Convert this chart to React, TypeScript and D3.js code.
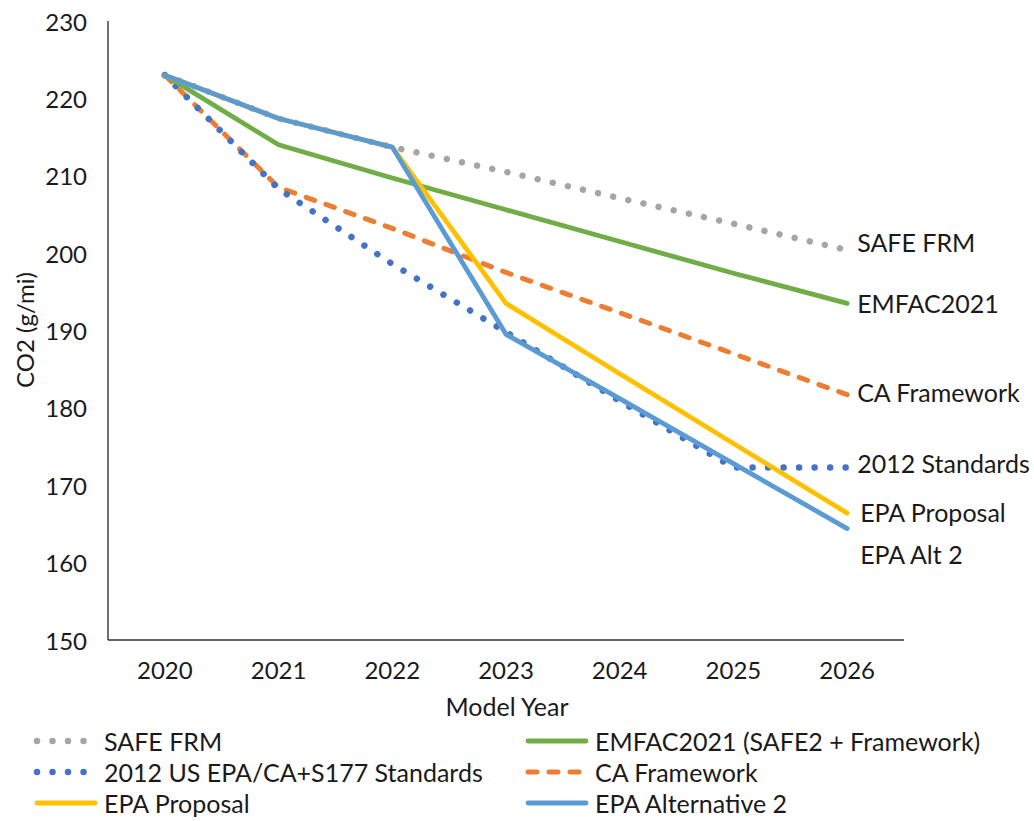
import React from "react";
import * as d3 from "d3";

const years = ["2020", "2021", "2022", "2023", "2024", "2025", "2026"];

const safeFrm = [223.0, 217.4, 213.7, 210.5, 207.1, 203.8, 200.4];
const emfac2021 = [223.0, 214.0, 209.7, 205.6, 201.5, 197.4, 193.5];
const caFramework = [223.0, 208.5, 203.2, 197.5, 192.3, 187.0, 181.7];
const standards2012 = [223.0, 208.3, 198.6, 189.8, 180.9, 172.3, 172.3];
const epaProposal = [223.0, 217.4, 213.7, 193.5, 184.4, 175.4, 166.4];
const epaAlt2 = [223.0, 217.4, 213.7, 189.5, 181.2, 172.8, 164.4];

const yTicks = [150, 160, 170, 180, 190, 200, 210, 220, 230];

type Series = {
  name: string;
  endLabel: string;
  values: number[];
  color: string;
  style: "solid" | "dot" | "dash";
  labelDx: number;
  labelDy: number;
};

const series: Series[] = [
  { name: "SAFE FRM", endLabel: "SAFE FRM", values: safeFrm, color: "#A5A5A5", style: "dot", labelDx: 10, labelDy: -8 },
  { name: "EMFAC2021 (SAFE2 + Framework)", endLabel: "EMFAC2021", values: emfac2021, color: "#70AD47", style: "solid", labelDx: 10, labelDy: 0 },
  { name: "2012 US EPA/CA+S177 Standards", endLabel: "2012 Standards", values: standards2012, color: "#4472C4", style: "dot", labelDx: 10, labelDy: -4 },
  { name: "CA Framework", endLabel: "CA Framework", values: caFramework, color: "#ED7D31", style: "dash", labelDx: 10, labelDy: -3 },
  { name: "EPA Proposal", endLabel: "EPA Proposal", values: epaProposal, color: "#FFC000", style: "solid", labelDx: 13, labelDy: -1 },
  { name: "EPA Alternative 2", endLabel: "EPA Alt 2", values: epaAlt2, color: "#5B9BD5", style: "solid", labelDx: 13, labelDy: 25 },
];

// draw order: later series sit on top
const drawOrder = ["SAFE FRM", "CA Framework", "2012 US EPA/CA+S177 Standards", "EMFAC2021 (SAFE2 + Framework)", "EPA Proposal", "EPA Alternative 2"];

const W = 1034;
const H = 821;
const plot = { left: 108, right: 904, top: 21, bottom: 640 };
const FONT = "Lato, 'Open Sans', sans-serif";
const INK = "#1a1a1a";

function strokeProps(s: Series) {
  if (s.style === "dot") {
    return { strokeWidth: 6.5, strokeDasharray: "0.01 15.5", strokeLinecap: "round" as const };
  }
  if (s.style === "dash") {
    return { strokeWidth: 5, strokeDasharray: "9 12", strokeLinecap: "round" as const };
  }
  return { strokeWidth: 4.8, strokeLinecap: "round" as const };
}

export default function App() {
  const x = d3.scaleBand<string>().domain(years).range([plot.left, plot.right]);
  const xc = (yr: string) => (x(yr) as number) + x.bandwidth() / 2;
  const y = d3.scaleLinear().domain([150, 230]).range([plot.bottom, plot.top]);

  const line = d3
    .line<number>()
    .x((_, i) => xc(years[i]))
    .y((v) => y(v));

  const ordered = drawOrder.map((n) => series.find((s) => s.name === n)!);
  const lastYear = years[years.length - 1];

  const legendRows = [
    [series[0], series[1]],
    [series[2], series[3]],
    [series[4], series[5]],
  ];

  return (
    <svg
      width={W}
      height={H}
      style={{ position: "absolute", left: 0, top: 0, background: "#fff" }}
      fontFamily={FONT}
    >
      {/* axes */}
      <line x1={plot.left} x2={plot.left} y1={plot.top} y2={plot.bottom} stroke="#222" strokeWidth={1.3} />
      <line x1={plot.left} x2={plot.right} y1={plot.bottom} y2={plot.bottom} stroke="#333" strokeWidth={1.3} />

      {yTicks.map((t) => (
        <text key={t} x={87} y={y(t)} textAnchor="end" dominantBaseline="central" fontSize={24} fill={INK}>
          {t}
        </text>
      ))}
      {years.map((yr) => (
        <text key={yr} x={xc(yr)} y={669} textAnchor="middle" dominantBaseline="central" fontSize={24} fill={INK}>
          {yr}
        </text>
      ))}

      <text x={507} y={706} textAnchor="middle" dominantBaseline="central" fontSize={25} fill={INK}>
        Model Year
      </text>
      <text
        transform={`translate(24,330) rotate(-90)`}
        textAnchor="middle"
        dominantBaseline="central"
        fontSize={24}
        fill={INK}
      >
        CO2 (g/mi)
      </text>

      {/* series lines */}
      {ordered.map((s) => (
        <path key={s.name} d={line(s.values) || ""} fill="none" stroke={s.color} strokeLinejoin="round" {...strokeProps(s)} />
      ))}

      {/* end labels */}
      {series.map((s) => (
        <text
          key={s.endLabel}
          x={xc(lastYear) + s.labelDx}
          y={y(s.values[s.values.length - 1]) + s.labelDy}
          dominantBaseline="central"
          fontSize={25}
          fill={INK}
        >
          {s.endLabel}
        </text>
      ))}

      {/* legend */}
      {legendRows.map((row, ri) =>
        row.map((s, ci) => {
          const x0 = ci === 0 ? 37 : 528;
          const yy = 741 + ri * 31;
          return (
            <g key={s.name}>
              <line x1={x0} x2={x0 + 58} y1={yy} y2={yy} stroke={s.color} {...strokeProps(s)} />
              <text x={x0 + 67} y={yy} dominantBaseline="central" fontSize={25} fill={INK}>
                {s.name}
              </text>
            </g>
          );
        })
      )}
    </svg>
  );
}
